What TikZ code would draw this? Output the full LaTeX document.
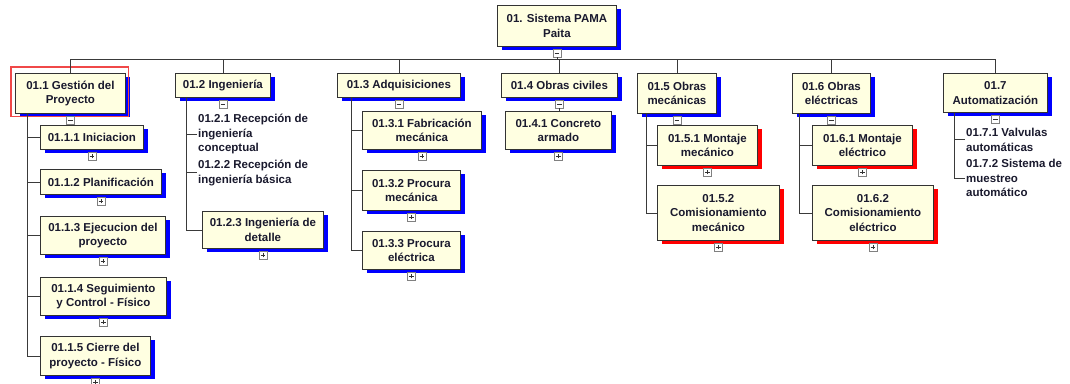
\documentclass[tikz,border=0pt]{standalone}
\usepackage{fontspec}
\setmainfont{Liberation Sans}
\usepackage{tikz}
\usetikzlibrary{positioning, shadows}
\usepackage{xcolor}
\definecolor{cardfill}{HTML}{FFFFE1}
\definecolor{cardink}{HTML}{1A1A2E}
\definecolor{shadeblue}{HTML}{0000FF}
\definecolor{shadered}{HTML}{FF0000}
\definecolor{selred}{HTML}{F04848}
\definecolor{linkgray}{HTML}{3A3A3A}
\newcommand{\wbsfont}{\fontsize{11.5}{14.5}\selectfont\bfseries}

\begin{document}
\begin{tikzpicture}[
    x=1pt, y=-1pt,
    card/.style={draw=black!80, fill=cardfill, line width=0.8pt, align=center, inner sep=2pt, text=cardink, font=\wbsfont, anchor=north west},
    wbs/.style={card, drop shadow={shadow xshift=5pt, shadow yshift=-4pt, fill=shadeblue, opacity=1}},
    wbsred/.style={card, drop shadow={shadow xshift=5pt, shadow yshift=-4pt, fill=shadered, opacity=1}},
    leaf/.style={align=left, inner sep=1pt, text=cardink, font=\wbsfont, anchor=north west},
    hilite/.style={draw=selred, line width=1.1pt},
    tog/.style={draw=black!50, fill=white, minimum size=8pt, inner sep=0pt, line width=0.6pt},
    minus/.style={tog, path picture={\draw[black!80, line width=0.8pt] ([xshift=1.8pt]path picture bounding box.west) -- ([xshift=-1.8pt]path picture bounding box.east);}},
    plus/.style={tog, path picture={\draw[black!80, line width=0.8pt] ([xshift=1.8pt]path picture bounding box.west) -- ([xshift=-1.8pt]path picture bounding box.east) ([yshift=1.8pt]path picture bounding box.south) -- ([yshift=-1.8pt]path picture bounding box.north);}},
    link/.style={draw=linkgray, line width=0.8pt}
]
    \path[use as bounding box, fill=white] (0,0) rectangle (1070,383);

    % Root
    \node[wbs, minimum width=119pt, minimum height=41pt] (top) at (497,5) {01. Sistema PAMA\\Paita};
    \node[minus, below=2pt of top] (topT) {};

    % Level 1
    \node[wbs, minimum width=110pt, minimum height=40pt] (ges) at (15,73) {01.1 Gestión del\\Proyecto};
    \node[wbs, minimum width=95pt, minimum height=24pt] (ing) at (175,73) {01.2 Ingeniería};
    \node[wbs, minimum width=123pt, minimum height=24pt] (adq) at (337,73) {01.3 Adquisiciones};
    \node[wbs, minimum width=116pt, minimum height=24pt] (civ) at (501,73) {01.4 Obras civiles};
    \node[wbs, minimum width=79pt, minimum height=40pt] (mec) at (637,73) {01.5 Obras\\mecánicas};
    \node[wbs, minimum width=78pt, minimum height=40pt] (ele) at (792,73) {01.6 Obras\\eléctricas};
    \node[wbs, minimum width=104pt, minimum height=39pt] (aut) at (943,73) {01.7\\Automatización};
    \draw[hilite] ([shift={(-4pt,6pt)}]ges.north west) rectangle ([shift={(3pt,-3pt)}]ges.south east);
    \foreach \c in {ges,ing,adq,civ,mec,ele,aut}
        \node[minus, below=2pt of \c] (\c T) {};

    % 01.1 Gestion
    \node[wbs, minimum width=103pt, minimum height=24pt] (ini) at (40,125) {01.1.1 Iniciacion};
    \node[wbs, minimum width=121pt, minimum height=25pt] (pla) at (40,169) {01.1.2 Planificación};
    \node[wbs, minimum width=125pt, minimum height=38pt] (eje) at (40,216) {01.1.3 Ejecucion del\\proyecto};
    \node[wbs, minimum width=126pt, minimum height=38pt] (seg) at (40,277) {01.1.4 Seguimiento\\y Control - Físico};
    \node[wbs, minimum width=110pt, minimum height=39pt] (cie) at (40,336) {01.1.5 Cierre del\\proyecto - Físico};

    % 01.2 Ingenieria
    \node[leaf] (rcon) at (197,113) {01.2.1 Recepción de\\ingeniería\\conceptual};
    \node[leaf] (rbas) at (197,159) {01.2.2 Recepción de\\ingeniería básica};
    \node[wbs, minimum width=121pt, minimum height=37pt] (det) at (202,211) {01.2.3 Ingeniería de\\detalle};

    % 01.3 Adquisiciones
    \node[wbs, minimum width=119pt, minimum height=38pt] (fab) at (362,111) {01.3.1 Fabricación\\mecánica};
    \node[wbs, minimum width=98pt, minimum height=40pt] (prm) at (362,170) {01.3.2 Procura\\mecánica};
    \node[wbs, minimum width=98pt, minimum height=38pt] (pre) at (362,231) {01.3.3 Procura\\eléctrica};

    % 01.4 Obras civiles
    \node[wbs, minimum width=106pt, minimum height=38pt] (con) at (505,111) {01.4.1 Concreto\\armado};

    % 01.5 / 01.6 Obras mecanicas y electricas
    \node[wbsred, minimum width=100pt, minimum height=40pt] (mom) at (657,125) {01.5.1 Montaje\\mecánico};
    \node[wbsred, minimum width=122pt, minimum height=55pt] (com) at (657,185) {01.5.2\\Comisionamiento\\mecánico};
    \node[wbsred, minimum width=100pt, minimum height=40pt] (moe) at (812,125) {01.6.1 Montaje\\eléctrico};
    \node[wbsred, minimum width=121pt, minimum height=55pt] (coe) at (812,185) {01.6.2\\Comisionamiento\\eléctrico};

    % 01.7 Automatizacion
    \node[leaf] (val) at (965,127) {01.7.1 Valvulas\\automáticas};
    \node[leaf] (mue) at (965,158) {01.7.2 Sistema de\\muestreo\\automático};

    \foreach \c in {ini,pla,eje,seg,cie,det,fab,prm,pre,con,mom,com,moe,coe}
        \node[plus, below=2pt of \c] (\c T) {};

    % Connectors
    \coordinate (bus) at (0,59);
    \draw[link] (topT) -- (topT |- bus);
    \foreach \c in {ges,ing,adq,civ,mec,ele,aut}
        \draw[link] (\c.north) |- (topT |- bus);

    \coordinate (gesL) at ([xshift=12pt]ges.south west);
    \coordinate (ingL) at ([xshift=11pt]ing.south west);
    \coordinate (adqL) at ([xshift=14pt]adq.south west);
    \coordinate (mecL) at ([xshift=9pt]mec.south west);
    \coordinate (eleL) at ([xshift=7pt]ele.south west);
    \coordinate (autL) at ([xshift=11pt]aut.south west);
    \foreach \c in {ini,pla,eje,seg,cie} \draw[link] (gesL) |- (\c.west);
    \foreach \c in {rcon,rbas,det} \draw[link] (ingL) |- (\c.west);
    \foreach \c in {fab,prm,pre} \draw[link] (adqL) |- (\c.west);
    \draw[link] (civT) -- (civT |- con.north);
    \foreach \c in {mom,com} \draw[link] (mecL) |- (\c.west);
    \foreach \c in {moe,coe} \draw[link] (eleL) |- (\c.west);
    \foreach \c in {val,mue} \draw[link] (autL) |- (\c.west);
\end{tikzpicture}
\end{document}
